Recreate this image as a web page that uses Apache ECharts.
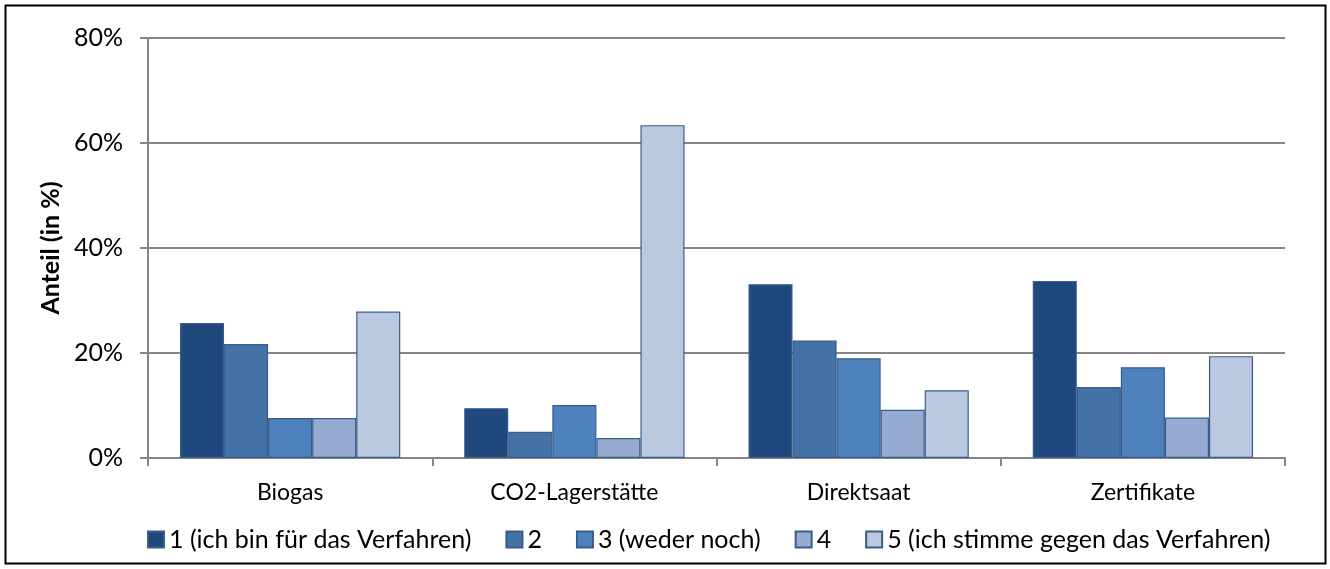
<!DOCTYPE html>
<html>
<head>
<meta charset="utf-8">
<script src="https://cdn.jsdelivr.net/npm/echarts@6/dist/echarts.min.js"></script>
<style>
  html, body { margin: 0; padding: 0; background: #fff; }
  #chart_block { width: 1330px; height: 569px; }
</style>
</head>
<body>
<div id="chart_block"></div>
<script>
var categories = ['Biogas', 'CO2-Lagerstätte', 'Direktsaat', 'Zertifikate'];
var seriesNames = ['1 (ich bin für das Verfahren)', '2', '3 (weder noch)', '4', '5 (ich stimme gegen das Verfahren)'];
var s1 = [25.7, 9.5, 33.1, 33.7];
var s2 = [21.7, 5.0, 22.4, 13.5];
var s3 = [7.6, 10.1, 19.0, 17.3];
var s4 = [7.6, 3.8, 9.2, 7.7];
var s5 = [27.9, 63.4, 12.9, 19.4];
var colors = ['#1f497d', '#4471a6', '#4f81bd', '#95abd2', '#bac8e0'];

var font = 'Lato, "Open Sans", sans-serif';
var chartDom = document.getElementById('chart_block');
var myChart = echarts.init(chartDom);

var allData = [s1, s2, s3, s4, s5];
var series = [];
for (var i = 0; i < allData.length; i++) {
  series.push({
    name: seriesNames[i],
    type: 'bar',
    data: allData[i],
    barGap: '0%',
    barCategoryGap: '22.5%',
    itemStyle: {
      color: colors[i],
      borderColor: '#385d8a',
      borderWidth: 1.2
    }
  });
}

var option = {
  animation: false,
  backgroundColor: '#fff',
  graphic: [{
    type: 'rect',
    shape: { x: 5.5, y: 5.5, width: 1320, height: 558 },
    style: { fill: 'none', stroke: '#000', lineWidth: 2 }
  }],
  legend: {
    bottom: 12,
    left: 142,
    itemWidth: 16,
    itemHeight: 16,
    itemGap: 34,
    icon: 'rect',
    textStyle: { fontFamily: font, fontSize: 25, color: '#000' },
    data: seriesNames
  },
  grid: {
    left: 148,
    right: 45,
    top: 38,
    bottom: 111,
    containLabel: false
  },
  xAxis: {
    type: 'category',
    data: categories,
    axisLine: { lineStyle: { color: '#868686', width: 2 } },
    axisTick: { show: true, length: 8, lineStyle: { color: '#868686', width: 2 } },
    axisLabel: { fontFamily: font, fontSize: 23, color: '#000', margin: 23 }
  },
  yAxis: {
    type: 'value',
    min: 0,
    max: 80,
    interval: 20,
    name: 'Anteil (in %)',
    nameLocation: 'middle',
    nameGap: 76,
    nameTextStyle: { fontFamily: font, fontSize: 25, fontWeight: 'bold', color: '#000' },
    axisLine: { show: true, lineStyle: { color: '#868686', width: 2 } },
    axisTick: { show: true, length: 8, lineStyle: { color: '#868686', width: 2 } },
    axisLabel: { fontFamily: font, fontSize: 25, color: '#000', margin: 25, formatter: '{value}%' },
    splitLine: { lineStyle: { color: '#868686', width: 2 } }
  },
  series: series
};

myChart.setOption(option);
</script>
</body>
</html>
